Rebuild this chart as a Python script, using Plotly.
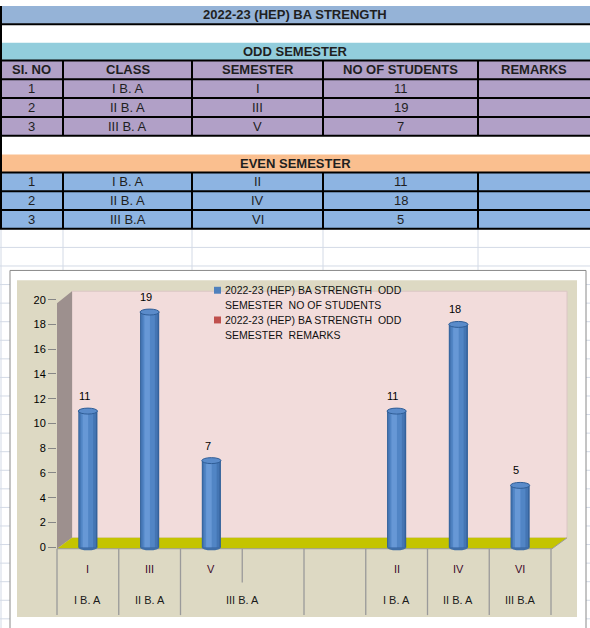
import plotly.graph_objects as go

W, H = 590, 628

# ---- table / chart data ----
title = "2022-23 (HEP) BA STRENGTH"
headers = ["SI. NO", "CLASS", "SEMESTER", "NO OF STUDENTS", "REMARKS"]
sl_no = [1, 2, 3]
odd_class = ["I B. A", "II B. A", "III B. A"]
odd_sem = ["I", "III", "V"]
odd_students = [11, 19, 7]
even_class = ["I B. A", "II B. A", "III B.A"]
even_sem = ["II", "IV", "VI"]
even_students = [11, 18, 5]

# chart categories: two empty slots between odd and even semesters
cat_sem = odd_sem + ["", ""] + even_sem
cat_values = odd_students + [None, None] + even_students
# outer category labels with the slots they span
cat_class = [(odd_class[0], 0, 0), (odd_class[1], 1, 1), (odd_class[2], 2, 3), ("", 4, 4),
             (even_class[0], 5, 5), (even_class[1], 6, 6), (even_class[2], 7, 7)]
legend_lines = [["2022-23 (HEP) BA STRENGTH  ODD", "SEMESTER  NO OF STUDENTS"],
                ["2022-23 (HEP) BA STRENGTH  ODD", "SEMESTER  REMARKS"]]
series_colors = ["#4f81bd", "#c0504d"]


def X(p):
    return p / W


def Y(p):
    return 1 - p / H


shapes = []
annots = []


def rect(x0, y0, x1, y1, fill, line=None, lw=0, layer="below"):
    shapes.append(dict(type="rect", xref="paper", yref="paper", x0=X(x0), x1=X(x1),
                       y0=Y(y1), y1=Y(y0), fillcolor=fill,
                       line=dict(color=line or fill, width=lw), layer=layer))


def seg(x0, y0, x1, y1, color, w=1):
    shapes.append(dict(type="line", xref="paper", yref="paper", x0=X(x0), y0=Y(y0),
                       x1=X(x1), y1=Y(y1), line=dict(color=color, width=w), layer="below"))


def poly(pts, fill):
    d = "M" + " L".join("%f,%f" % (X(a), Y(b)) for a, b in pts) + " Z"
    shapes.append(dict(type="path", xref="paper", yref="paper", path=d, fillcolor=fill,
                       line=dict(width=0), layer="below"))


def txt(x, y, s, size=13, bold=False, color="#1f1f1f", family="Liberation Sans Narrow, Arial Narrow, sans-serif", anchor="center"):
    annots.append(dict(x=X(x), y=Y(y), xref="paper", yref="paper", text="<b>%s</b>" % s if bold else s,
                       showarrow=False, xanchor=anchor, yanchor="middle", borderpad=0,
                       font=dict(size=size, color=color, family=family)))


# ---- spreadsheet part ----
cols = [0, 63, 192, 323, 478, 590]
col_c = [(cols[i] + cols[i + 1]) / 2 for i in range(5)]
grid = "#d3dae6"

# light sheet gridlines
for k in range(23):
    yy = 225 + 18.75 * k
    if yy < 267:
        seg(0, yy, 590, yy, grid)
    else:
        seg(0, yy, 10, yy, grid)
        seg(586, yy, 590, yy, grid)
for c in cols[1:5]:
    seg(c, 225, c, 267, grid)
seg(1, 225, 1, 628, grid)

rect(0, 0, 590, 18, "#95b3d7")
rect(0, 37, 590, 55, "#92cddc")
rect(0, 55, 590, 131, "#b1a0c7")
rect(0, 150, 590, 168, "#fabf8f")
rect(0, 168, 590, 225, "#8db4e2")

for yy in [18.5, 55, 74, 93, 112, 131, 168, 187, 206, 225]:
    seg(0, yy, 590, yy, "black", 2)
for c in cols[1:5]:
    seg(c, 55, c, 131, "black", 2)
    seg(c, 168, c, 225, "black", 2)
seg(1, 0, 1, 225, "black", 2)

txt(295, 9, title, bold=True)
txt(295, 46, "ODD SEMESTER", bold=True)
for i, h in enumerate(headers):
    txt(col_c[i], 64.5, h, bold=True)
for r in range(3):
    yo = 83.5 + 19 * r
    ye = 177.5 + 19 * r
    for i, v in enumerate([sl_no[r], odd_class[r], odd_sem[r], odd_students[r]]):
        txt(col_c[i], yo, str(v))
    for i, v in enumerate([sl_no[r], even_class[r], even_sem[r], even_students[r]]):
        txt(col_c[i], ye, str(v))
txt(295, 159, "EVEN SEMESTER", bold=True)

# ---- chart object ----
rect(10, 267, 586, 660, "white", "#8a8a8a", 1)
rect(17, 277, 577, 617, "#ddd9c3")
rect(72, 288, 567, 537, "#f2dcdb", "#dcc6c5", 1)
poly([(57, 300), (72, 288), (72, 537), (57, 548)], "#9d908e")
poly([(57, 548), (72, 537), (567, 537), (552, 548)], "#c4c400")
seg(57, 548, 552, 548, "#9a9a9a")
seg(552, 548, 567, 537, "#9a9a9a")

fx0, fx1 = 57, 551
n = len(cat_sem)
cw = (fx1 - fx0) / n
for b in range(n + 1):
    xb = fx0 + b * cw
    seg(xb, 548, xb, 582 if b == 3 else 615, "#9a9a9a", 1.3)

for i, s in enumerate(cat_sem):
    annots.append(dict(x=i, y=Y(568), xref="x", yref="paper", text=s, showarrow=False,
                       yanchor="middle",
                       font=dict(size=11, color="#3d0a2c", family="Liberation Sans")))
for s, a, b in cat_class:
    annots.append(dict(x=(a + b) / 2, y=Y(600), xref="x", yref="paper", text=s, showarrow=False,
                       yanchor="middle",
                       font=dict(size=11, color="#1a1a1a", family="Liberation Sans")))

# legend
for k, lines in enumerate(legend_lines):
    y0 = 287 + 30 * k
    rect(214, y0 - 3.5, 221, y0 + 3.5, series_colors[k])
    for j, ln in enumerate(lines):
        txt(224, y0 + 15 * j, ln, size=10.5, color="#111111", family="Liberation Sans", anchor="left")

# cylinders made of stacked bar strips
idx = list(range(n))
layers = [(0.31, -0.155, "#34629b"), (0.27, -0.14, "#4475b3"), (0.2, -0.115, "#5185c5"),
          (0.09, -0.085, "#6798d6")]
fig = go.Figure()
for w, o, c in layers:
    fig.add_trace(go.Bar(x=idx, y=cat_values, width=w, offset=o, marker_color=c,
                         marker_line_width=0, hoverinfo="skip", showlegend=False))

ry = 0.24
for i, v in enumerate(cat_values):
    if v is None:
        continue
    shapes.append(dict(type="circle", xref="x", yref="y", x0=i - 0.155, x1=i + 0.155,
                       y0=-ry, y1=ry, fillcolor="#3f6ea8", line=dict(width=0), layer="below"))
    shapes.append(dict(type="circle", xref="x", yref="y", x0=i - 0.155, x1=i + 0.155,
                       y0=v - ry, y1=v + ry, fillcolor="#5a8bca",
                       line=dict(color="#2f5d96", width=1), layer="above"))
    annots.append(dict(x=i - 0.06, y=v, xref="x", yref="y", text=str(v), showarrow=False,
                       yshift=15, font=dict(size=11, color="black", family="Liberation Sans")))

y_zero, y_top = 546.5, 296.5
unit = (y_zero - y_top) / 20
fig.update_layout(
    width=W, height=H, margin=dict(l=0, r=0, t=0, b=0),
    paper_bgcolor="white", plot_bgcolor="rgba(0,0,0,0)",
    barmode="overlay", showlegend=False,
    xaxis=dict(domain=[X(fx0), X(fx1)], range=[-0.5, n - 0.5], visible=False, fixedrange=True),
    yaxis=dict(domain=[Y(y_zero + 0.5 * unit), Y(y_top)], range=[-0.5, 20],
               tickvals=list(range(0, 21, 2)), ticks="outside", ticklen=8, tickcolor="#868686",
               showline=False, showgrid=False, zeroline=False, fixedrange=True,
               tickfont=dict(size=11, color="black", family="Liberation Sans")),
    shapes=shapes, annotations=annots,
)

fig.write_html("out.html", config={"displayModeBar": False},
               post_script="document.body.style.margin='0';")
